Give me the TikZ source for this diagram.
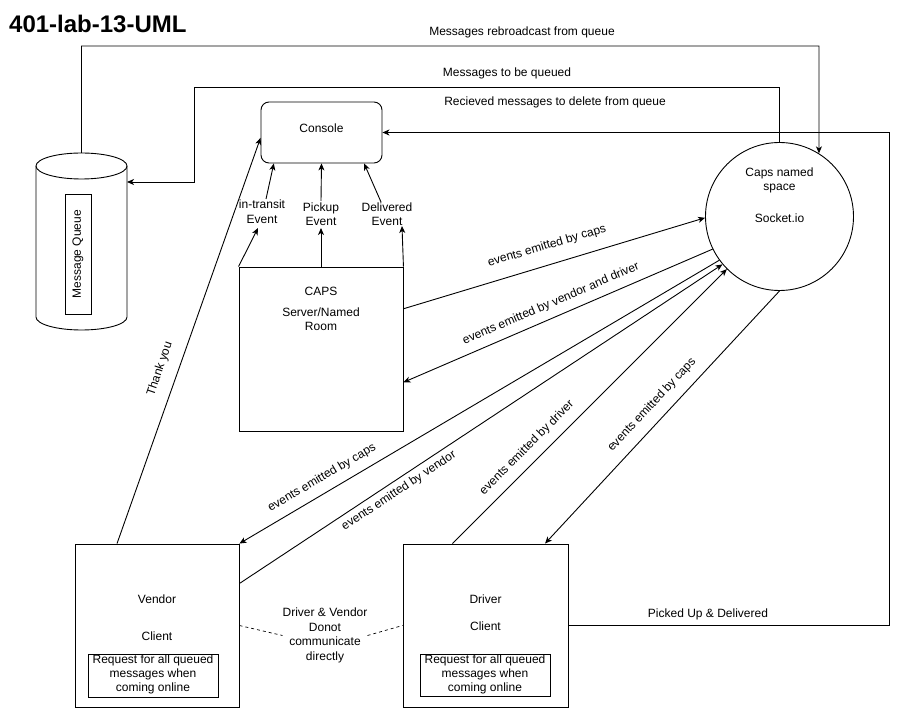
\documentclass[tikz,border=0pt]{standalone}
\usepackage{fontspec}
\setmainfont{Liberation Sans}
\usetikzlibrary{arrows.meta,calc}
\begin{document}
\begin{tikzpicture}[x=1pt,y=-1pt,
  every node/.style={font=\fontsize{12}{14.5}\selectfont, inner sep=0pt},
  ln/.style={line width=0.9pt},
  arr/.style={ln, -{Stealth[length=7pt,width=6pt,inset=2pt]}},
  box/.style={draw, line width=0.9pt, rectangle, inner sep=0pt},
  txt/.style={align=center},
  dsh/.style={line width=0.7pt, dashed, dash pattern=on 3pt off 3pt}
]
\useasboundingbox[fill=white] (0,0) rectangle (898,708);

% title
\node[anchor=west, font=\bfseries\fontsize{24}{28}\selectfont] (title) at (9,24) {401-lab-13-UML};

% message queue cylinder
\draw[ln, fill=white] (36,166) -- (36,317) arc[start angle=180, end angle=360, x radius=45.5pt, y radius=13pt] -- (127,166);
\draw[ln] (81.5,166) ellipse[x radius=45.5pt, y radius=13pt];
\node[box, minimum width=26pt, minimum height=120pt] (mq) at (78,254) {};
\node[rotate=90] (mqtxt) at (78,254) {Message Queue};
\coordinate (qtop) at (81.5,153);
\coordinate (qin) at (127,182);

% console
\node[box, minimum width=121pt, minimum height=61pt, rounded corners=8pt] (console) at (321.5,132.5) {};
\node (consoletxt) at (321.5,128.5) {Console};

% caps server
\node[box, minimum width=164pt, minimum height=164pt] (caps) at (321,349) {};
\node (capst1) at (321,291) {CAPS};
\node[txt] (capst2) at (321,319) {Server/Named\\Room};

% socket circle
\node[draw, circle, ln, minimum size=148pt] (circ) at (779.5,216.5) {};
\node[txt] (circt1) at (779.5,180.5) {Caps named\\space};
\node (circt2) at (779.5,218) {Socket.io};

% vendor
\node[box, minimum width=164pt, minimum height=163pt] (vendor) at (157,625.5) {};
\node (vt1) at (157,599) {Vendor};
\node (vt2) at (157,636) {Client};
\node[box, minimum width=130pt, minimum height=43pt] (vin) at (153,675.5) {};
\node[txt, font=\fontsize{12}{13.8}\selectfont] (vintxt) at (153,674.5) {Request for all queued\\messages when\\coming online};

% driver
\node[box, minimum width=165pt, minimum height=163pt] (driver) at (485.5,625.5) {};
\node (dt1) at (485.5,599) {Driver};
\node (dt2) at (485.5,626) {Client};
\node[box, minimum width=130pt, minimum height=42pt] (din) at (485,675.5) {};
\node[txt, font=\fontsize{12}{13.8}\selectfont] (dintxt) at (485,674.5) {Request for all queued\\messages when\\coming online};

% driver & vendor note
\node[txt] (dv) at (325,635.5) {Driver \& Vendor\\Donot\\communicate\\directly};
\draw[dsh] (vendor.east) -- (dv.west);
\draw[dsh] (dv.east) -- (driver.west);

% console event labels
\node[txt] (itl) at (262,211.5) {in-transit\\Event};
\node[txt] (pkl) at (321,214) {Pickup\\Event};
\node[txt] (dll) at (387,214) {Delivered\\Event};
\coordinate (itb) at (258,228);
\coordinate (itt) at (266,199);
\coordinate (pkb) at (321,228);
\coordinate (pkt) at (321,201);
\coordinate (dlb) at (402,226);
\coordinate (dlt) at (381,202);
\draw[arr] (caps.north west) -- (itb);
\draw[arr] (itt) -- (console.213);
\draw[arr] (caps.north) -- (pkb);
\draw[arr] (pkt) -- (console.south);
\draw[arr] (caps.north east) -- (dlb);
\draw[arr] (dlt) -- (console.324);

% queue connectors
\draw[arr] (qtop) |- (819,46) -- (circ.58);
\draw[arr] (circ.north) |- (194,87) |- (qin);
\node (l0a) at (522,32) {Messages rebroadcast from queue};
\node (l0b) at (507,73) {Messages to be queued};
\node (l0c) at (555,102) {Recieved messages to delete from queue};

% driver to console loop
\draw[arr] (driver.east) -| (889,132.5) -- (console.east);
\node (l0d) at (708,614) {Picked Up \& Delivered};

% thank you
\draw[arr] (vendor.116) -- (console.185);
\node[rotate=71] (lty) at (160,369) {Thank you};

% caps <-> circle
\draw[arr] (caps.26.6) -- (circ.181);
\node[rotate=16.5] (l1) at (547,246) {events emitted by caps};
\draw[arr] (circ.206) -- (caps.338);
\node[rotate=23.3] (l2) at (551,304) {events emitted by vendor and driver};

% vendor <-> circle
\draw[arr] (circ.216) -- (vendor.north east);
\node[rotate=30.5] (l3) at (322,478) {events emitted by caps};
\draw[arr] (vendor.27) -- (circ.220);
\node[rotate=33.4] (l4) at (399,491) {events emitted by vendor};

% driver <-> circle
\draw[arr] (driver.112) -- (circ.225.5);
\node[rotate=45] (l5) at (527,448) {events emitted by driver};
\draw[arr] (circ.270) -- (driver.54);
\node[rotate=47] (l6) at (652,405) {events emitted by caps};
\end{tikzpicture}
\end{document}
